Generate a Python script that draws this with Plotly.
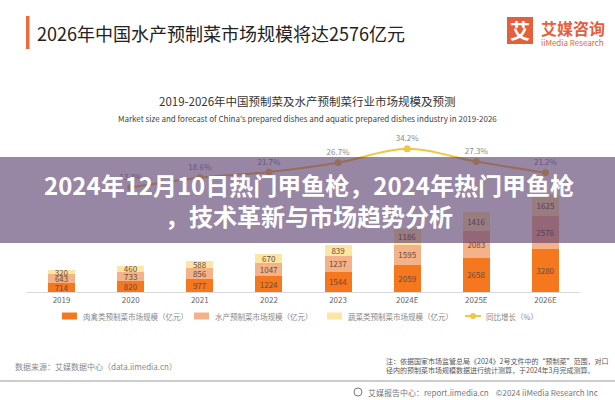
import plotly.graph_objects as go

# ---------------- data ----------------
categories = ["2019", "2020", "2021", "2022", "2023", "2024E", "2025E", "2026E"]
meat_poultry = [714, 820, 977, 1224, 1544, 2059, 2658, 3280]
aquatic = [643, 733, 856, 1047, 1237, 1595, 2083, 2576]
vegetable = [320, 460, 588, 670, 839, 1186, 1416, 1625]
growth_categories = ["2020", "2021", "2022", "2023", "2024E", "2025E", "2026E"]
growth_rate = [13.3, 18.6, 21.7, 26.7, 34.2, 27.3, 21.2]
series_names = ["肉禽类预制菜市场规模（亿元）", "水产预制菜市场规模（亿元）",
                "蔬菜类预制菜市场规模（亿元）", "同比增长（%）"]

W, H = 615, 400
L, R, T, B = 27, 35, 130, 108
PW, PH = W - L - R, H - T - B
FONT = "Noto Sans CJK SC"


def px(x):
    return (x - L) / PW


def py(y):
    return (H - B - y) / PH


fig = go.Figure()
colors = ["#F5781F", "#F3B287", "#FDE5A2"]
line_color = "#F5C442"
for vals, name, col in zip([meat_poultry, aquatic, vegetable], series_names[:3], colors):
    fig.add_trace(go.Bar(
        x=categories, y=vals, name=name, marker=dict(color=col, line=dict(width=0)),
        width=0.39, text=[str(v) for v in vals], textposition="inside",
        insidetextanchor="middle", textangle=0, showlegend=False,
        textfont=dict(size=8, color="#6b4a3a", family=FONT),
    ))

fig.add_trace(go.Scatter(
    x=growth_categories, y=growth_rate, yaxis="y2", name=series_names[3],
    mode="lines+markers+text", line=dict(color=line_color, width=2, shape="spline"),
    marker=dict(color=line_color, size=7), showlegend=False,
    text=[f"{v}%" for v in growth_rate], textposition="top center",
    textfont=dict(size=8, color="#8a8a8a", family=FONT), cliponaxis=False,
))

shapes = [
    # header accent bar
    dict(type="rect", xref="paper", yref="paper", x0=px(26), x1=px(29.5), y0=py(49), y1=py(16),
         fillcolor="#EE6A3C", line=dict(width=0)),
    # logo square
    dict(type="rect", xref="paper", yref="paper", x0=px(507), x1=px(533), y0=py(44), y1=py(17),
         fillcolor="#E45F3C", line=dict(width=0)),
    # footer rule
    dict(type="line", xref="paper", yref="paper", x0=px(0), x1=px(615), y0=py(381), y1=py(381),
         line=dict(color="#9a9a9a", width=1.2)),
    # globe icon
    dict(type="circle", xref="paper", yref="paper", x0=px(354), x1=px(362), y0=py(396), y1=py(388),
         line=dict(color="#777", width=1)),
]

ann = []


def add_text(text, x, y, size, color, xanchor="left", bold=False, align="left"):
    ann.append(dict(text=f"<b>{text}</b>" if bold else text, x=px(x), y=py(y),
                    xref="paper", yref="paper", xanchor=xanchor, yanchor="middle",
                    showarrow=False, align=align,
                    font=dict(size=size, color=color, family=FONT)))


# manual legend
legend_x = [62, 194, 327]
for lx, col, name in zip(legend_x, colors, series_names[:3]):
    shapes.append(dict(type="rect", xref="paper", yref="paper", x0=px(lx), x1=px(lx + 15),
                       y0=py(319.5), y1=py(312.5), fillcolor=col, line=dict(width=0)))
    add_text(name, lx + 19, 316, 7.5, "#888888")
shapes.append(dict(type="line", xref="paper", yref="paper", x0=px(465), x1=px(481),
                   y0=py(316), y1=py(316), line=dict(color=line_color, width=2)))
shapes.append(dict(type="circle", xref="paper", yref="paper", x0=px(470), x1=px(476),
                   y0=py(319), y1=py(313), fillcolor=line_color, line=dict(width=0)))
add_text(series_names[3], 484, 316, 7.5, "#888888")

# overlay band (above traces)
shapes.append(dict(type="rect", xref="paper", yref="paper", x0=px(0), x1=px(615), y0=py(243), y1=py(157),
                   fillcolor="rgba(83,53,105,0.6)", line=dict(width=0), layer="above"))

add_text("2026年中国水产预制菜市场规模将达2576亿元", 35, 33, 18, "#222222")
add_text("艾", 520, 31, 20, "#FFFFFF", xanchor="center", bold=True)
add_text("艾媒咨询", 539, 28, 16, "#E45F3C", bold=True)
add_text("iiMedia Research", 539, 42, 8, "#E45F3C")
add_text("2019-2026年中国预制菜及水产预制菜行业市场规模及预测", 307, 101, 11.5, "#333333", xanchor="center")
add_text("Market size and forecast of China's prepared dishes and aquatic prepared dishes industry in 2019-2026",
         307, 119, 8, "#444444", xanchor="center")
add_text("数据来源：艾媒数据中心（data.iimedia.cn）", 13, 366, 8, "#8a8a8a")
add_text("注：依据国家市场监管总局《2024》2号文件中的“预制菜”范围，对口<br>"
         "径内的预制菜市场规模数据进行统计测算，于2024年3月完成测算。",
         610, 365, 7, "#555555", xanchor="right")
add_text("艾媒报告中心：report.iimedia.cn    ©2024 iiMedia Research Inc", 366, 392, 8, "#777777")
add_text("2024年12月10日热门甲鱼枪，2024年热门甲鱼枪<br>，技术革新与市场趋势分析",
         309, 200, 24, "#FFFFFF", xanchor="center", bold=True, align="center")

fig.update_layout(
    width=W, height=H, margin=dict(l=L, r=R, t=T, b=B, autoexpand=False),
    paper_bgcolor="white", plot_bgcolor="white", barmode="stack",
    font=dict(family=FONT), showlegend=False,
    uniformtext=dict(minsize=8, mode="show"),
    xaxis=dict(showline=True, linecolor="#d9d9d9", linewidth=1, ticks="", showgrid=False,
               tickfont=dict(size=8, color="#666666", family=FONT), range=[-0.5, 7.5]),
    yaxis=dict(visible=False, range=[0, 12490], showgrid=False),
    yaxis2=dict(visible=False, overlaying="y", side="right", range=[-43.3, 44.4], showgrid=False),
    shapes=shapes, annotations=ann,
)

fig.write_html("out.html", config={"displayModeBar": False},
               post_script="document.body.style.margin='0';document.body.style.padding='0';")
